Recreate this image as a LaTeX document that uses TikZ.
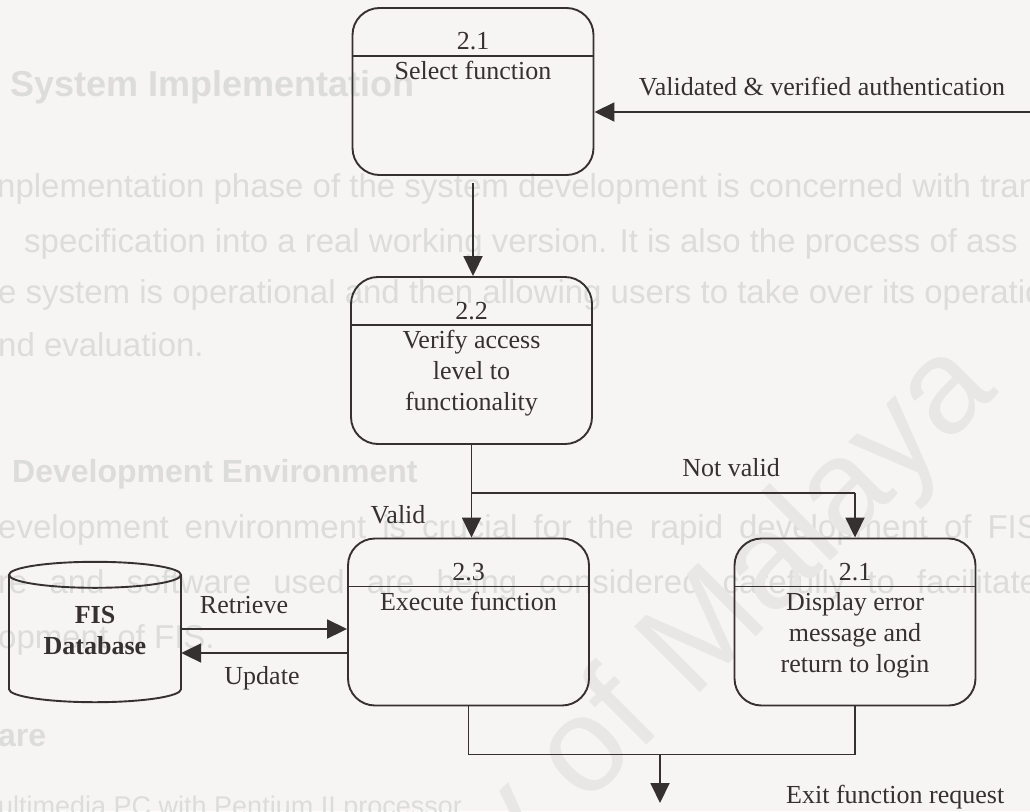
\documentclass[tikz,border=0pt]{standalone}
\usepackage{fontspec}
\setmainfont{Liberation Serif}
\newfontfamily\pagesans{Liberation Sans}
\usetikzlibrary{arrows.meta,calc}

\definecolor{paper}{HTML}{F6F5F3}
\definecolor{ink}{HTML}{363131}
\definecolor{bleed}{HTML}{DCDCDA}
\definecolor{wmark}{HTML}{E8E7E5}

\tikzset{
  flow/.style={draw=ink, line width=1.9pt},
  arr/.style={flow, -{Triangle[length=20pt,width=19pt]}},
  procbox/.style={draw=ink, line width=1.9pt, rectangle, rounded corners=27pt,
    minimum width=241pt, minimum height=167pt, inner sep=0pt,
    path picture={\draw[ink, line width=1.9pt]
      ([yshift=-48pt]path picture bounding box.north west) --
      ([yshift=-48pt]path picture bounding box.north east);}},
  txt/.style={text=ink, font=\fontsize{26}{31}\selectfont, inner sep=0pt,
    text height=18pt, text depth=6pt},
  bgtxt/.style={text=bleed, font=\pagesans\fontsize{33}{38}\selectfont,
    inner sep=0pt, anchor=base west},
  bghead/.style={bgtxt, font=\pagesans\bfseries\fontsize{32}{38}\selectfont},
}

\begin{document}
\begin{tikzpicture}[x=1pt,y=-1pt]
\fill[paper] (0,0) rectangle (1030,811);
\useasboundingbox (0,0) rectangle (1030,811);

% faint text of the printed page underneath
\begin{scope}
\clip (0,0) rectangle (1030,811);
\node[bghead, font=\pagesans\bfseries\fontsize{36}{40}\selectfont] (bg1) at (10,96) {System Implementation};
\node[bgtxt] (bg2) at (-3,197) {nplementation phase of the system development is concerned with trans};
\node[bgtxt] (bg3) at (24,252) {specification into a real working version. It is also the process of ass};
\node[bgtxt] (bg4) at (-2,303) {e system is operational and then allowing users to take over its operatio};
\node[bgtxt] (bg5) at (-2,356) {nd evaluation.};
\node[bghead] (bg6) at (12,482) {Development Environment};
\node[bgtxt] (bg7) at (-2,538) {\makebox[1050pt][s]{evelopment environment is crucial for the rapid development of FIS,}};
\node[bgtxt] (bg8) at (-2,593) {\makebox[1040pt][s]{re and software used are being considered carefully to facilitate}};
\node[bgtxt] (bg9) at (-2,648) {opment of FIS.};
\node[bghead] (bg10) at (-2,746) {are};
\node[bgtxt, font=\pagesans\fontsize{27}{32}\selectfont] (bg11) at (-2,815) {ultimedia PC with Pentium II processor};
\node[text=wmark, font=\pagesans\fontsize{135}{135}\selectfont, inner sep=0pt,
  anchor=base east, rotate=45] (wm) at (1000,392) {University of Malaya};
\end{scope}

% processes
\node[procbox] (b1) at (473,91.5) {};
\node[procbox] (b2) at (471.5,360.5) {};
\node[procbox] (b3) at (468.5,622) {};
\node[procbox] (b4) at (855,622) {};

\node[txt] (b1n) at ($(b1.north)+(0,36)$) {2.1};
\node[txt] (b1t) at ($(b1.north)+(0,66)$) {Select function};

\node[txt] (b2n) at ($(b2.north)+(0,37)$) {2.2};
\node[txt] (b2a) at ($(b2.north)+(0,66)$) {Verify access};
\node[txt] (b2b) at ($(b2.north)+(0,97)$) {level to};
\node[txt] (b2c) at ($(b2.north)+(0,128)$) {functionality};

\node[txt] (b3n) at ($(b3.north)+(0,37)$) {2.3};
\node[txt] (b3t) at ($(b3.north)+(0,67)$) {Execute function};

\node[txt] (b4n) at ($(b4.north)+(0,37)$) {2.1};
\node[txt] (b4a) at ($(b4.north)+(0,67)$) {Display error};
\node[txt] (b4b) at ($(b4.north)+(0,98)$) {message and};
\node[txt] (b4c) at ($(b4.north)+(0,129)$) {return to login};

% data store
\node[inner sep=0pt, minimum width=172pt, minimum height=140pt] (db) at (95,632) {};
\coordinate (dbt) at ($(db.north)+(0,13)$);
\coordinate (dbb) at ($(db.south)+(0,-13)$);
\draw[flow] (dbt) ellipse [x radius=86pt, y radius=13pt];
\draw[flow] ($(dbt)+(-86,0)$) -- ($(dbb)+(-86,0)$)
  arc[start angle=180, end angle=360, x radius=86pt, y radius=13pt]
  -- ($(dbt)+(86,0)$);
\node[txt, font=\bfseries\fontsize{26}{31}\selectfont] (dbl1) at (95,617) {FIS};
\node[txt, font=\bfseries\fontsize{26}{31}\selectfont] (dbl2) at (95,648) {Database};

% flows
\coordinate (auth) at (1032,112);
\draw[arr] (auth) -- (b1.east |- auth);
\node[txt] (authl) at (822,89) {Validated \& verified authentication};

\draw[arr] ($(b1.south)+(0,7)$) -- (b1.south |- b2.north);
\draw[arr] (b2.south) -- (b2.south |- b3.north);
\coordinate (split) at ($(b2.south)+(0,48)$);
\draw[flow] (split) -- (split -| b4.north);
\draw[arr] (split -| b4.north) -- (b4.north);
\node[txt] (nv) at (731,470) {Not valid};
\node[txt] (vl) at (398,517) {Valid};

\coordinate (rt) at ($(db.east)+(0,-3)$);
\draw[arr] (rt) -- (rt -| b3.west);
\coordinate (up) at ($(db.east)+(0,21)$);
\draw[arr] (up -| b3.west) -- (up);
\node[txt] (rl) at (244,607) {Retrieve};
\node[txt] (ul) at (262,678) {Update};

\coordinate (join) at ($(b3.south)+(0,48)$);
\draw[flow] (b3.south) -- (join) -| (b4.south);
\coordinate (exit) at (660,803);
\draw[arr] (exit |- join) -- (exit);
\node[txt, anchor=west] (exitl) at (786,797) {Exit function request};
\end{tikzpicture}
\end{document}
